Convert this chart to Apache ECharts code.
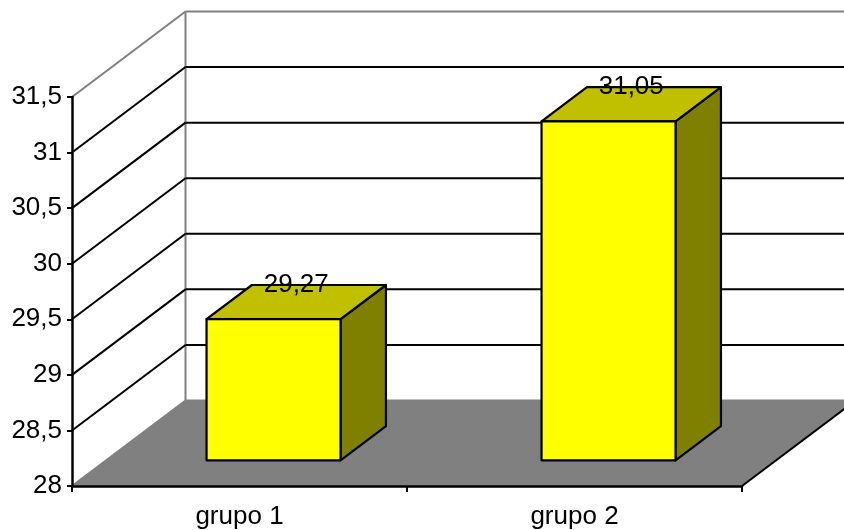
<!DOCTYPE html>
<html>
<head>
<meta charset="utf-8">
<script src="https://cdn.jsdelivr.net/npm/echarts@6/dist/echarts.min.js"></script>
<style>
  html, body { margin: 0; padding: 0; background: #fff; }
  #chart { width: 844px; height: 530px; }
</style>
</head>
<body>
<div id="chart"></div>
<script>
// Chart data
const categories = ['grupo 1', 'grupo 2'];
const values = [29.27, 31.05];
const yTicks = [28, 28.5, 29, 29.5, 30, 30.5, 31, 31.5];

// 3D projection of the chart box: full depth offset in pixels
const DEPTH_DX = 113.5;
const DEPTH_DY = -85.5;
// bar placement inside the depth and category band
const BAR_FRONT = 0.3;
const BAR_DEPTH = 0.4;
const BAR_WIDTH = 0.4;

const FONT = '"Liberation Sans", Arial, sans-serif';
const FONT_SIZE = 26;
const GRAY = '#808080';
const yMin = yTicks[0];
const yMax = yTicks[yTicks.length - 1];

const fmt = v => String(v).replace('.', ',');

const chart = echarts.init(document.getElementById('chart'), null, { renderer: 'canvas' });

// floor plane and back-wall left edge
function renderFloor(params, api) {
  const cs = params.coordSys;
  const left = cs.x, right = cs.x + cs.width;
  const top = cs.y, bottom = cs.y + cs.height;
  return {
    type: 'group',
    children: [
      {
        type: 'polygon',
        shape: { points: [[left, bottom], [right, bottom], [right + DEPTH_DX, bottom + DEPTH_DY], [left + DEPTH_DX, bottom + DEPTH_DY]] },
        style: { fill: GRAY, stroke: null }
      },
      {
        type: 'line',
        shape: { x1: right, y1: bottom, x2: right + DEPTH_DX, y2: bottom + DEPTH_DY },
        style: { stroke: '#000', lineWidth: 2 }
      },
      {
        type: 'line',
        shape: { x1: left + DEPTH_DX, y1: top + DEPTH_DY, x2: left + DEPTH_DX, y2: bottom + DEPTH_DY },
        style: { stroke: GRAY, lineWidth: 2 }
      }
    ]
  };
}

// side-wall diagonals and back-wall gridlines at each tick value
function renderWallGrid(params, api) {
  const cs = params.coordSys;
  const v = api.value(1);
  const y = api.coord([0, v])[1];
  const left = cs.x, right = cs.x + cs.width;
  const edge = (v === yMin || v === yMax);
  const color = edge ? GRAY : '#000';
  return {
    type: 'group',
    children: [
      {
        type: 'line',
        shape: { x1: left, y1: y, x2: left + DEPTH_DX, y2: y + DEPTH_DY },
        style: { stroke: color, lineWidth: 2 }
      },
      {
        type: 'line',
        shape: { x1: left + DEPTH_DX, y1: y + DEPTH_DY, x2: right + DEPTH_DX, y2: y + DEPTH_DY },
        style: { stroke: color, lineWidth: 2 }
      }
    ]
  };
}

// 3D box bars with value labels
function renderBar(params, api) {
  const idx = api.value(0);
  const val = api.value(1);
  const base = api.coord([idx, yMin]);
  const top = api.coord([idx, val]);
  const band = api.size([1, 0])[0];
  const w = band * BAR_WIDTH;
  const ox = BAR_FRONT * DEPTH_DX, oy = BAR_FRONT * DEPTH_DY;
  const dx = BAR_DEPTH * DEPTH_DX, dy = BAR_DEPTH * DEPTH_DY;
  const x0 = base[0] - w / 2 + ox;
  const x1 = x0 + w;
  const yb = base[1] + oy;
  const yt = top[1] + oy;
  const stroke = { stroke: '#000', lineWidth: 2.2, lineJoin: 'round' };
  return {
    type: 'group',
    children: [
      {
        type: 'polygon',
        shape: { points: [[x1, yt], [x1 + dx, yt + dy], [x1 + dx, yb + dy], [x1, yb]] },
        style: Object.assign({ fill: '#808000' }, stroke)
      },
      {
        type: 'polygon',
        shape: { points: [[x0, yt], [x1, yt], [x1 + dx, yt + dy], [x0 + dx, yt + dy]] },
        style: Object.assign({ fill: '#C0C000' }, stroke)
      },
      {
        type: 'rect',
        shape: { x: x0, y: yt, width: w, height: yb - yt },
        style: Object.assign({ fill: '#FFFF00' }, stroke)
      },
      {
        type: 'text',
        style: {
          text: fmt(val),
          x: (x0 + x1) / 2 + dx / 2,
          y: yt + dy,
          align: 'center',
          verticalAlign: 'middle',
          fill: '#000',
          font: FONT_SIZE + 'px ' + FONT
        }
      }
    ]
  };
}

chart.setOption({
  animation: false,
  backgroundColor: '#fff',
  grid: { left: 72, right: 102, top: 97, bottom: 42, containLabel: false },
  xAxis: {
    type: 'category',
    data: categories,
    z: 5,
    axisLine: { show: true, lineStyle: { color: '#000', width: 2.5 } },
    axisTick: { show: true, length: 6, lineStyle: { color: '#000', width: 2 } },
    axisLabel: { color: '#000', fontSize: FONT_SIZE, fontFamily: FONT, margin: 18 },
    splitLine: { show: false }
  },
  yAxis: {
    type: 'value',
    min: yMin,
    max: yMax,
    interval: 0.5,
    z: 5,
    axisLine: { show: true, lineStyle: { color: '#000', width: 2.5 } },
    axisTick: { show: true, length: 5, lineStyle: { color: '#000', width: 2 } },
    axisLabel: { color: '#000', fontSize: FONT_SIZE, fontFamily: FONT, margin: 10, formatter: fmt },
    splitLine: { show: false }
  },
  series: [
    {
      type: 'custom',
      name: 'floor',
      z: 1,
      silent: true,
      renderItem: renderFloor,
      data: [[0, yMin]]
    },
    {
      type: 'custom',
      name: 'walls',
      z: 2,
      silent: true,
      renderItem: renderWallGrid,
      data: yTicks.map(v => [0, v])
    },
    {
      type: 'custom',
      name: 'values',
      z: 3,
      renderItem: renderBar,
      data: values.map((v, i) => [i, v])
    }
  ]
});
</script>
</body>
</html>
